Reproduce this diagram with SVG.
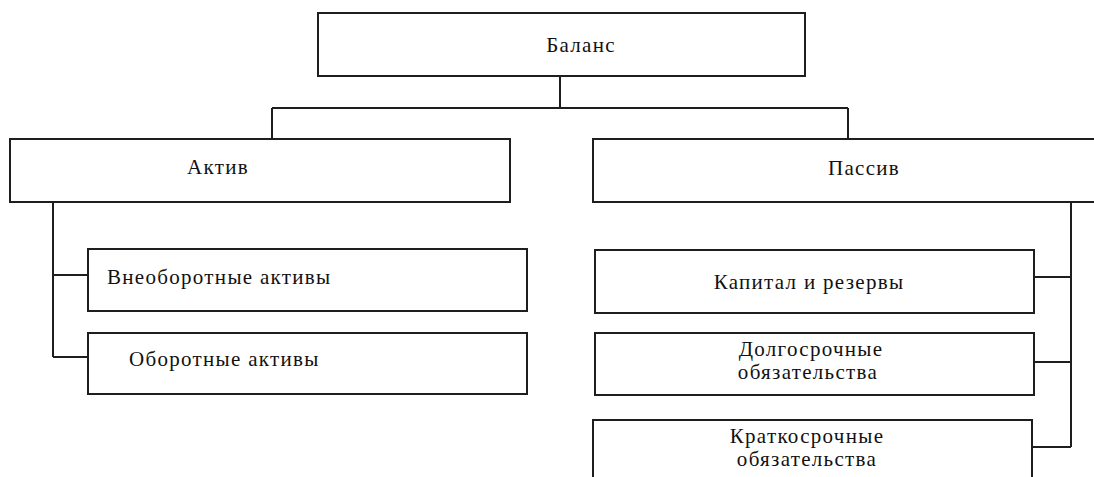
<svg xmlns="http://www.w3.org/2000/svg" width="1094" height="477" viewBox="0 0 1094 477">
<style>
.box{fill:#fff;stroke:#1e1e1e;stroke-width:2}
.ln{fill:none;stroke:#1e1e1e;stroke-width:2}
text{font-family:"Liberation Serif","Times New Roman",serif;font-size:21px;letter-spacing:1.3px;fill:#111}
.c{text-anchor:middle}
</style>
<rect width="1094" height="477" fill="#fff"/>
<g id="connectors">
<path class="ln" d="M560,76 V108 M272,108 H848 M272,108 V139 M848,108 V139"/>
<path class="ln" d="M53,202 V357 M53,275 H88 M53,357 H88"/>
<path class="ln" d="M1071,202 V447 M1034,277 H1071 M1034,362 H1071 M1032,447 H1071"/>
</g>
<g id="balans"><rect class="box" x="318" y="13" width="487" height="63"/><text class="c" x="581" y="52">Баланс</text></g>
<g id="aktiv"><rect class="box" x="10" y="139" width="500" height="63"/><text class="c" x="218" y="174">Актив</text></g>
<g id="passiv"><rect class="box" x="593" y="139" width="510" height="63"/><text class="c" x="864" y="175">Пассив</text></g>
<g id="vneoborotnye"><rect class="box" x="88" y="249" width="439" height="62"/><text x="107" y="284">Внеоборотные активы</text></g>
<g id="oborotnye"><rect class="box" x="88" y="333" width="439" height="61"/><text x="129" y="366">Оборотные активы</text></g>
<g id="kapital"><rect class="box" x="595" y="250" width="439" height="63"/><text class="c" x="809" y="289">Капитал и резервы</text></g>
<g id="dolgosrochnye"><rect class="box" x="595" y="333" width="439" height="62"/><text class="c" x="811" y="356">Долгосрочные</text><text class="c" x="808" y="379">обязательства</text></g>
<g id="kratkosrochnye"><rect class="box" x="593" y="420" width="439" height="70"/><text class="c" x="807" y="443">Краткосрочные</text><text class="c" x="807" y="466">обязательства</text></g>
</svg>
